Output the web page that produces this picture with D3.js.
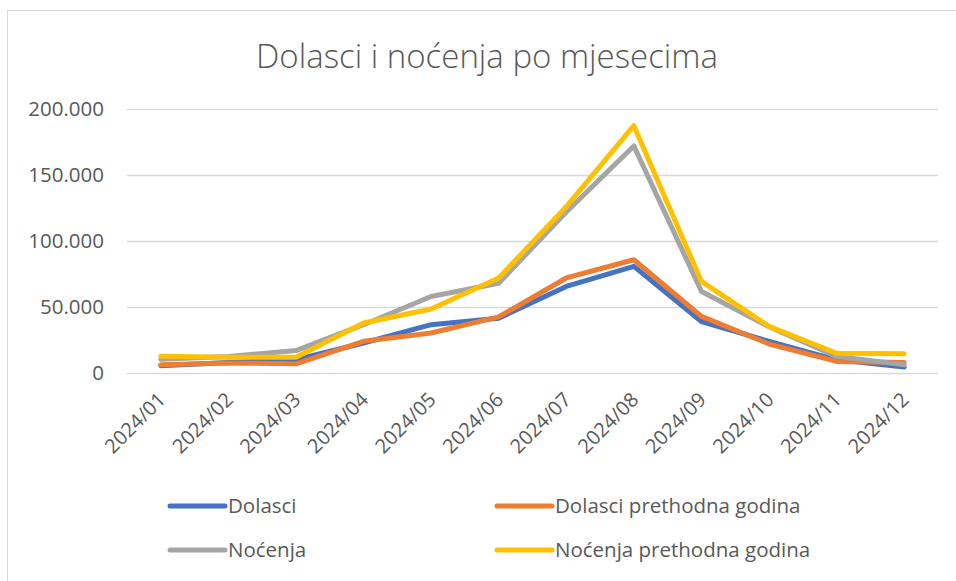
<!DOCTYPE html>
<html>
<head>
<meta charset="utf-8">
<script src="https://cdn.jsdelivr.net/npm/d3@7/dist/d3.min.js"></script>
<style>
  html, body { margin: 0; padding: 0; background: #fff; }
  svg { display: block; }
  text { font-family: "Open Sans", "Noto Sans", sans-serif; fill: #595959; }
</style>
</head>
<body>
<svg id="chart" width="956" height="581"></svg>
<script>
const months = ["2024/01","2024/02","2024/03","2024/04","2024/05","2024/06","2024/07","2024/08","2024/09","2024/10","2024/11","2024/12"];
const dolasci = [5500, 8000, 10000, 22700, 36600, 41500, 65600, 80800, 39000, 24000, 10000, 4500];
const dolasciPrev = [6300, 7500, 7000, 24000, 30300, 42500, 72000, 85800, 42900, 22000, 8800, 8000];
const nocenja = [10500, 12500, 17000, 36600, 58000, 68000, 122000, 172000, 61800, 35000, 12600, 6300];
const nocenjaPrev = [12600, 12000, 12000, 37900, 48500, 72000, 126000, 187400, 69400, 35300, 15000, 14600];
const yTicks = [0, 50000, 100000, 150000, 200000];
const yTickLabels = ["0", "50.000", "100.000", "150.000", "200.000"];
const seriesNames = ["Dolasci", "Dolasci prethodna godina", "Noćenja", "Noćenja prethodna godina"];
const seriesColors = ["#4472C4", "#ED7D31", "#A5A5A5", "#FFC000"];
const seriesValues = [dolasci, dolasciPrev, nocenja, nocenjaPrev];

(function () {
const svg = d3.select("#chart");

svg.append("rect").attr("x", 7.5).attr("y", 10.5).attr("width", 960).attr("height", 600)
  .attr("fill", "none").attr("stroke", "#d9d9d9").attr("stroke-width", 1);

svg.append("text").attr("x", 487).attr("y", 68).attr("text-anchor", "middle")
  .style("font-size", "33px").style("font-weight", 300).text("Dolasci i noćenja po mjesecima");

const pl = 127, pr = 938, pt = 109, pb = 373;
const x = d3.scaleBand().domain(months).range([pl, pr]);
const y = d3.scaleLinear().domain([0, 200000]).range([pb, pt]);

svg.append("g").selectAll("line").data(yTicks).join("line")
  .attr("x1", pl).attr("x2", pr)
  .attr("y1", d => Math.round(y(d)) + 0.5).attr("y2", d => Math.round(y(d)) + 0.5)
  .attr("stroke", "#d9d9d9").attr("stroke-width", 1.5);

const yAxis = d3.axisLeft(y).tickValues(yTicks).tickSize(0).tickPadding(0)
  .tickFormat((d, i) => yTickLabels[i]);
const gy = svg.append("g").attr("transform", `translate(104,0)`).call(yAxis);
gy.select(".domain").remove();
gy.selectAll("text").style("font-size", "20.5px").style("font-family", "'Open Sans', sans-serif").attr("fill", "#595959");

const xAxis = d3.axisBottom(x).tickSize(0).tickPadding(0);
const gx = svg.append("g").attr("transform", `translate(0,${pb})`).call(xAxis);
gx.select(".domain").remove();
gx.selectAll("text")
  .style("font-size", "20px").style("font-family", "'Open Sans', sans-serif").attr("fill", "#595959")
  .attr("text-anchor", "end").attr("dy", null).attr("y", 0)
  .attr("transform", `translate(6,28) rotate(-45)`);

const line = d3.line().x((d, i) => x(months[i]) + x.bandwidth() / 2).y(d => y(d));
seriesValues.forEach((vals, i) => {
  svg.append("path").datum(vals).attr("d", line)
    .attr("fill", "none").attr("stroke", seriesColors[i]).attr("stroke-width", 5)
    .attr("stroke-linejoin", "round").attr("stroke-linecap", "round");
});

const legendPos = [[170, 506], [497, 506], [170, 550], [497, 550]];
seriesNames.forEach((name, i) => {
  const [lx, ly] = legendPos[i];
  svg.append("line").attr("x1", lx).attr("x2", lx + 55).attr("y1", ly).attr("y2", ly)
    .attr("stroke", seriesColors[i]).attr("stroke-width", 5).attr("stroke-linecap", "round");
  svg.append("text").attr("x", lx + 58).attr("y", ly + 7).style("font-size", "20.5px").text(name);
});
})();
</script>
</body>
</html>
